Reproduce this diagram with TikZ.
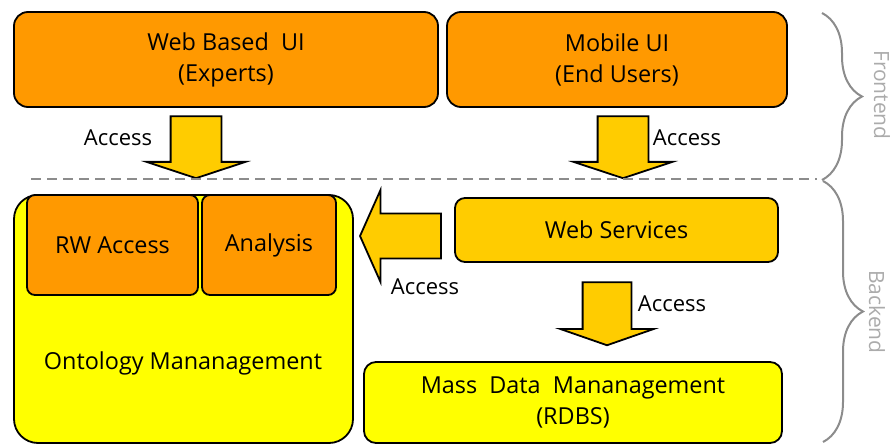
\documentclass[tikz,border=0pt]{standalone}
\usepackage{fontspec}
\setmainfont{Open Sans}
\usetikzlibrary{positioning, shapes.arrows, decorations.pathreplacing}
\definecolor{uiorange}{HTML}{FF9900}
\definecolor{accgold}{HTML}{FFCC00}
\definecolor{dbyellow}{HTML}{FFFF00}
\definecolor{sepgray}{HTML}{8C8C8C}
\definecolor{tiergray}{HTML}{ABABAB}
\begin{document}
\begin{tikzpicture}[
    x=0.5pt, y=-0.5pt,
    box/.style={rectangle, draw, line width=0.9pt, rounded corners=7pt, align=center, inner sep=0pt, font=\fontsize{11.7}{15.5}\selectfont},
    access/.style={single arrow, draw, line width=0.9pt, fill=accgold, inner xsep=0pt, single arrow head indent=0pt},
    lbl/.style={inner sep=0pt, font=\fontsize{11}{13}\selectfont},
    tier/.style={decorate, decoration={brace, amplitude=20pt}, draw=sepgray, line width=1pt},
    tierlbl/.style={text=tiergray, rotate=-90, inner sep=0pt, font=\fontsize{10.5}{12}\selectfont}
]
    \useasboundingbox (0,0) rectangle (895,444);

    % Frontend
    \node[box, fill=uiorange, minimum width=212pt, minimum height=47.5pt] (webui) at (226,59.5) {Web Based \ UI\\(Experts)};
    \node[box, fill=uiorange, minimum width=170pt, minimum height=47.5pt] (mobui) at (617,59.5) {Mobile UI\\(End Users)};

    % Backend
    \node[box, fill=dbyellow, rounded corners=12pt, minimum width=169.5pt, minimum height=124pt] (onto) at (183.5,319) {};
    \node[box, fill=uiorange, rounded corners=4pt, minimum width=85.5pt, minimum height=50pt] (rwacc) at (112.5,245) {RW Access};
    \node[box, fill=uiorange, rounded corners=4pt, minimum width=67pt, minimum height=50pt] (anal) at (269,245) {Analysis};
    \node[inner sep=0pt, font=\fontsize{11.7}{15.5}\selectfont] (ontolbl) at (183,363) {Ontology Mananagement};
    \node[box, fill=accgold, rounded corners=5pt, minimum width=161.5pt, minimum height=32pt] (websvc) at (616.5,230) {Web Services};
    \node[box, fill=dbyellow, rounded corners=6pt, minimum width=209pt, minimum height=40.5pt] (massdb) at (573,402.5) {Mass \ Data \ Mananagement\\(RDBS)};

    % Zugriffe
    \node[access, rotate=-90, inner ysep=12.25pt, minimum height=31pt, single arrow head extend=12pt, single arrow tip angle=143.5] (acc1) at (196,143) {};
    \node[access, rotate=-90, inner ysep=12.25pt, minimum height=31pt, single arrow head extend=12pt, single arrow tip angle=143.5] (acc2) at (623,143) {};
    \node[access, rotate=180, inner ysep=10.75pt, minimum height=40.5pt, single arrow head extend=11.75pt, single arrow tip angle=132] (acc3) at (405.5,236) {};
    \node[access, rotate=-90, inner ysep=11.75pt, minimum height=31.5pt, single arrow head extend=11.25pt, single arrow tip angle=141.6] (acc4) at (607,309.5) {};
    \node[lbl] (acc1lbl) at (118,138) {Access};
    \node[lbl] (acc2lbl) at (687,138) {Access};
    \node[lbl] (acc3lbl) at (425,287) {Access};
    \node[lbl] (acc4lbl) at (672,304) {Access};

    % Trennlinie und Klammern
    \coordinate (sepL) at (31,179);
    \coordinate (sepR) at (817,179);
    \draw[sepgray, line width=1pt, dash pattern=on 5pt off 3pt] (sepL) -- (sepR);
    \coordinate (frontT) at (822,13);
    \coordinate (frontB) at (822,180);
    \coordinate (backT) at (823,181);
    \coordinate (backB) at (823,442);
    \draw[tier] (frontT) -- (frontB);
    \draw[tier] (backT) -- (backB);
    \node[tierlbl] (frontlbl) at (882,95) {Frontend};
    \node[tierlbl] (backlbl) at (877,312) {Backend};
\end{tikzpicture}
\end{document}
